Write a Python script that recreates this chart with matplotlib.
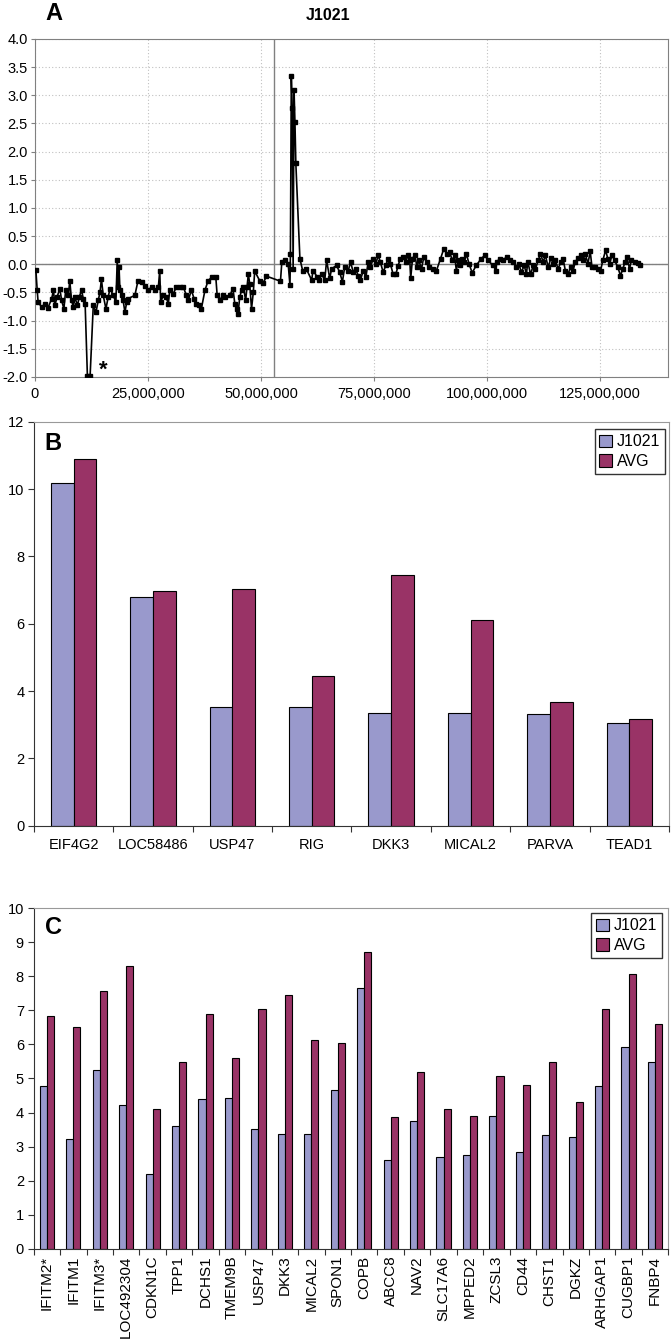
import matplotlib
matplotlib.use('Agg')
import numpy as np
import matplotlib.pyplot as plt
from matplotlib.ticker import FuncFormatter, MultipleLocator

plt.rcParams['font.family'] = ['Liberation Sans', 'DejaVu Sans']
plt.rcParams['font.size'] = 10

# ---- panel A: log ratio along the chromosome (position in Mb) ----
pos_mb = [0.2, 0.5, 0.7, 1.5, 2.2, 2.9, 3.7, 4.1, 4.4, 4.9, 5.5, 5.9, 6.4, 6.8, 7.4, 7.7,
          8.1, 8.5, 8.8, 9.4, 9.8, 10.3, 10.7, 11.1, 11.6, 12.2, 12.9, 13.5, 14.0, 14.4,
          14.7, 15.1, 15.7, 16.2, 16.6, 17.3, 17.9, 18.2, 18.4, 18.6, 18.8, 19.2, 19.5,
          19.9, 20.3, 20.6, 22.1, 22.8, 23.6, 24.3, 25.1, 25.8, 26.5, 27.3, 27.6, 27.8,
          28.4, 29.0, 29.5, 29.8, 30.6, 31.3, 32.1, 32.8, 33.5, 33.9, 34.6, 35.2, 35.7,
          36.3, 36.8, 37.6, 38.3, 39.1, 40.0, 40.3, 40.9, 41.5, 42.0, 43.1, 43.8, 44.2,
          44.6, 44.9, 45.3, 45.7, 46.1, 46.6, 46.9, 47.2, 47.5, 47.9, 48.3, 48.6, 49.7,
          50.5, 51.2, 54.3,
          54.6, 55.3, 56.0, 56.4, 56.5, 56.7, 56.9, 57.1, 57.3, 57.5, 57.7, 58.6, 59.2,
          60.0, 61.2, 61.5, 62.4, 62.9, 63.4, 64.1, 64.5, 65.2,
          65.6, 66.7, 67.4, 68.0, 68.5, 69.3, 69.8, 70.4, 70.9, 71.5, 72.0, 72.6, 73.2,
          73.7, 74.2, 74.8, 75.4, 75.9, 76.4, 77.0, 77.6, 78.1, 78.6, 79.2, 79.8, 80.3,
          80.8, 81.4, 82.0, 82.5, 82.9, 83.1, 83.5, 84.0, 84.5, 84.9, 85.5, 86.0, 86.6,
          87.1, 88.0, 88.8, 89.7, 90.4, 91.1, 91.7, 92.3, 92.8, 93.2, 93.6, 94.1, 94.5,
          95.0, 95.4, 96.0, 96.7, 97.6, 98.7, 99.5, 100.2, 101.3, 102.0,
          102.1, 102.8, 103.5, 104.3, 105.0, 105.7, 106.5, 107.0, 107.6, 108.2, 108.7,
          109.0, 109.6, 110.2, 110.7, 111.3, 111.8, 112.4, 112.9, 113.5, 114.1, 114.6,
          115.1, 115.7, 116.3, 116.8, 117.3, 117.9, 118.5, 119.0, 119.5, 120.1, 120.7,
          121.2, 121.7, 122.3, 122.8, 123.2, 123.8, 124.5, 125.1, 125.6, 126.2, 126.7,
          127.1, 127.6, 128.2, 128.9, 129.5, 130.0, 130.5, 130.9, 131.5, 131.9, 132.6,
          133.3, 133.9]
log_ratio = [-0.10, -0.46, -0.67, -0.76, -0.70, -0.77, -0.61, -0.46, -0.73, -0.58, -0.43,
             -0.64, -0.79, -0.46, -0.55, -0.29, -0.64, -0.76, -0.58, -0.73, -0.58, -0.46,
             -0.61, -0.70, -1.98, -1.98, -0.73, -0.85, -0.64, -0.49, -0.26, -0.55, -0.79,
             -0.58, -0.43, -0.55, -0.67, 0.07, -0.40, -0.05, -0.46, -0.55, -0.64, -0.85,
             -0.67, -0.61, -0.55, -0.29, -0.32, -0.38, -0.46, -0.40, -0.46, -0.40, -0.11,
             -0.67, -0.55, -0.58, -0.70, -0.46, -0.52, -0.40, -0.40, -0.40, -0.55, -0.64,
             -0.46, -0.61, -0.70, -0.73, -0.79, -0.46, -0.29, -0.23, -0.23, -0.55, -0.64,
             -0.55, -0.58, -0.55, -0.43, -0.70, -0.79, -0.88, -0.58, -0.46, -0.40, -0.64,
             -0.40, -0.17, -0.35, -0.79, -0.49, -0.12, -0.29, -0.33, -0.21, -0.30,
             0.04, 0.08, 0.01, -0.37, 0.19, 3.34, 2.78, -0.08, 3.09, 2.53, 1.79, 0.10, -0.11,
             -0.08, -0.28, -0.11, -0.22, -0.28, -0.17, -0.28, 0.07, -0.25,
             -0.08, -0.02, -0.14, -0.31, -0.05, -0.11, 0.04, -0.14, -0.08, -0.20, -0.28,
             -0.11, -0.22, 0.04, -0.05, 0.10, 0.01, 0.16, 0.04, -0.14, -0.02, 0.10, 0.01,
             -0.17, -0.18, -0.03, 0.10, 0.13, 0.04, 0.16, 0.07, -0.25, 0.10, 0.17, -0.05,
             0.07, -0.08, 0.13, 0.04, -0.05, -0.08, -0.11, 0.10, 0.27, 0.19, 0.22, 0.07,
             0.16, -0.11, 0.07, -0.02, 0.10, 0.04, 0.19, 0.01, -0.15, -0.02, 0.10, 0.16,
             0.07, -0.02, -0.11,
             0.04, 0.10, 0.07, 0.13, 0.07, 0.04, -0.05, 0.01, -0.14, -0.02, -0.17, 0.05,
             -0.18, -0.02, -0.08, 0.07, 0.19, 0.04, 0.16, -0.05, 0.11, 0.01, 0.07, -0.08,
             0.04, 0.10, -0.11, -0.17, -0.05, -0.11, 0.04, 0.11, 0.16, 0.07, 0.19, 0.01,
             0.23, -0.05, -0.05, -0.08, -0.11, 0.07, 0.25, 0.10, 0.01, 0.16, 0.07, -0.05,
             -0.20, -0.08, 0.04, 0.13, -0.08, 0.07, 0.05, 0.03, -0.01]
centromere_mb = 52.8

# ---- panel B ----
genes_b = ['EIF4G2', 'LOC58486', 'USP47', 'RIG', 'DKK3', 'MICAL2', 'PARVA', 'TEAD1']
j1021_b = [10.19, 6.78, 3.54, 3.54, 3.35, 3.35, 3.31, 3.04]
avg_b = [10.88, 6.98, 7.04, 4.46, 7.45, 6.12, 3.67, 3.16]

# ---- panel C ----
genes_c = ['IFITM2*', 'IFITM1', 'IFITM3*', 'LOC492304', 'CDKN1C', 'TPP1', 'DCHS1', 'TMEM9B',
           'USP47', 'DKK3', 'MICAL2', 'SPON1', 'COPB', 'ABCC8', 'NAV2', 'SLC17A6', 'MPPED2',
           'ZCSL3', 'CD44', 'CHST1', 'DGKZ', 'ARHGAP1', 'CUGBP1', 'FNBP4']
j1021_c = [4.79, 3.23, 5.25, 4.21, 2.18, 3.61, 4.41, 4.44, 3.53, 3.37, 3.37, 4.66, 7.67,
           2.61, 3.74, 2.68, 2.74, 3.90, 2.83, 3.34, 3.29, 4.77, 5.92, 5.49]
avg_c = [6.84, 6.52, 7.57, 8.31, 4.09, 5.49, 6.88, 5.60, 7.05, 7.45, 6.13, 6.03, 8.73,
         3.88, 5.19, 4.10, 3.90, 5.07, 4.80, 5.49, 4.30, 7.03, 8.06, 6.61]

col_j = '#9999CC'
col_avg = '#993366'
gray = '#808080'

fig = plt.figure(figsize=(6.72, 13.44), dpi=100)

# panel A
axA = fig.add_axes([0.052, 0.7195, 0.942, 0.2515])
x_bp = np.array(pos_mb) * 1e6
axA.plot(x_bp, log_ratio, '-s', color='black', lw=1.2, ms=2.2, zorder=3)
axA.axhline(0, color=gray, lw=1.0, zorder=2)
axA.axvline(centromere_mb * 1e6, color=gray, lw=1.0, zorder=2)
axA.set_xlim(0, 140e6)
axA.set_ylim(-2.0, 4.0)
axA.yaxis.set_major_locator(MultipleLocator(0.5))
axA.xaxis.set_major_locator(MultipleLocator(25e6))
axA.xaxis.set_major_formatter(FuncFormatter(lambda v, p: f'{v:,.0f}'))
axA.yaxis.set_major_formatter(FuncFormatter(lambda v, p: f'{v:.1f}'))
axA.grid(True, color='#C0C0C0', linestyle=(0, (1, 2)), lw=0.8)
for s in axA.spines.values():
    s.set_color(gray)
axA.tick_params(length=3, color=gray, labelsize=10.5, pad=2)
axA.tick_params(axis='x', pad=4)
axA.text(15.1e6, -1.88, '*', fontsize=16, fontweight='bold', ha='center', va='center')
fig.text(328 / 672, 1 - 15 / 1344, 'J1021', fontsize=11.5, fontweight='bold', ha='center', va='center')
fig.text(54 / 672, 1 - 14 / 1344, 'A', fontsize=17, fontweight='bold', ha='center', va='center')


def bar_panel(ax, genes, s1, s2, width, rotate, lsize):
    idx = np.arange(len(genes))
    ax.bar(idx - width / 2, s1, width, color=col_j, edgecolor='black', lw=0.8, label='J1021')
    ax.bar(idx + width / 2, s2, width, color=col_avg, edgecolor='black', lw=0.8, label='AVG')
    ax.set_xlim(-0.5, len(genes) - 0.5)
    ax.set_xticks(np.arange(len(genes) + 1) - 0.5)
    ax.set_xticklabels([])
    ax.set_xticks(idx, minor=True)
    ax.set_xticklabels(genes, minor=True, rotation=90 if rotate else 0)
    ax.tick_params(axis='x', which='minor', length=0, pad=9 if not rotate else 5,
                   labelsize=lsize)
    ax.tick_params(axis='x', which='major', length=4, color='#333333')
    ax.tick_params(axis='y', length=4, color='#333333', labelsize=10.5, pad=3)
    ax.spines['left'].set_color('#333333')
    ax.spines['bottom'].set_color('#333333')
    ax.spines['top'].set_color('#999999')
    ax.spines['right'].set_color('#999999')


# panel B
axB = fig.add_axes([0.0506, 0.3856, 0.9449, 0.3006])
bar_panel(axB, genes_b, j1021_b, avg_b, 1 / 3.5, False, 10.5)
axB.set_ylim(0, 12)
axB.yaxis.set_major_locator(MultipleLocator(2))
legB = axB.legend(loc='upper right', bbox_to_anchor=(0.994, 0.981), borderaxespad=0,
                  fancybox=False, edgecolor='black', fontsize=11.5, handlelength=0.8,
                  handleheight=0.8, handletextpad=0.3, labelspacing=0.3, borderpad=0.3)
legB.get_frame().set_linewidth(1.0)
fig.text(53 / 672, 1 - 443 / 1344, 'B', fontsize=17, fontweight='bold', ha='center', va='center')

# panel C
axC = fig.add_axes([0.0501, 0.0709, 0.9444, 0.2533])
bar_panel(axC, genes_c, j1021_c, avg_c, 1 / 3.7, True, 11)
axC.set_ylim(0, 10)
axC.yaxis.set_major_locator(MultipleLocator(1))
legC = axC.legend(loc='upper right', bbox_to_anchor=(0.990, 0.985), borderaxespad=0,
                  fancybox=False, edgecolor='black', fontsize=11.5, handlelength=0.8,
                  handleheight=0.8, handletextpad=0.3, labelspacing=0.3, borderpad=0.3)
legC.get_frame().set_linewidth(1.0)
fig.text(53 / 672, 1 - 928 / 1344, 'C', fontsize=17, fontweight='bold', ha='center', va='center')

fig.savefig('out.png', dpi=100)
